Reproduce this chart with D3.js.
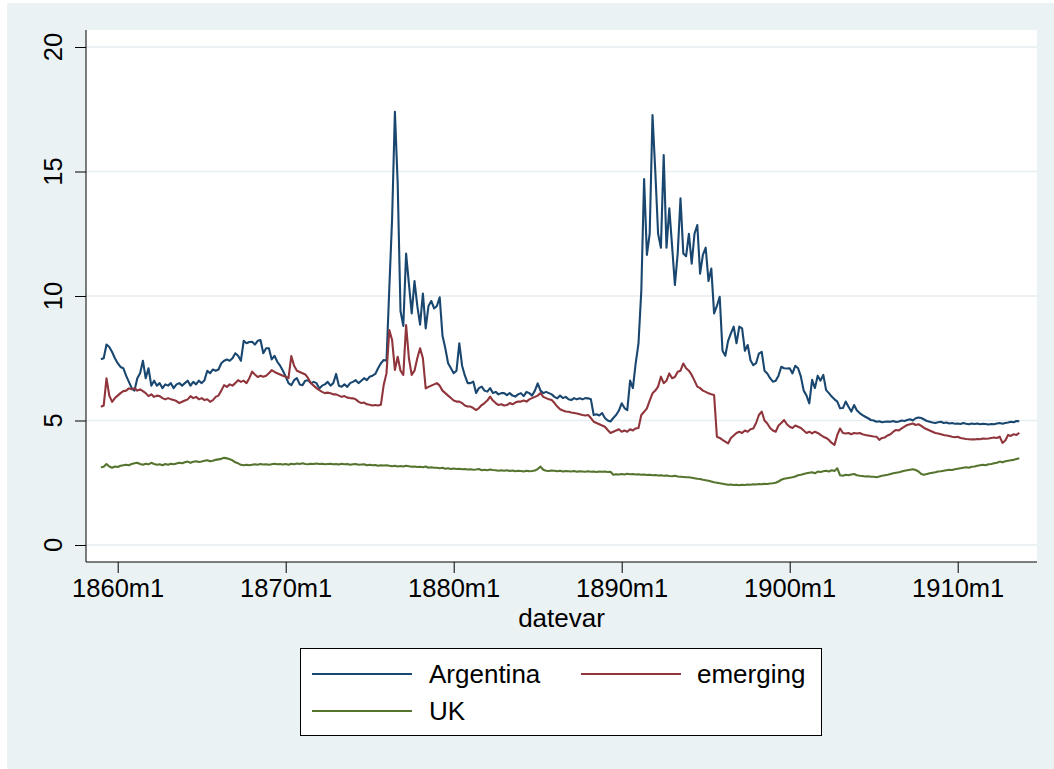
<!DOCTYPE html>
<html>
<head>
<meta charset="utf-8">
<script src="https://cdn.jsdelivr.net/npm/d3@7"></script>
<style>
  body { margin: 0; background: #fff; }
  text { font-family: "Liberation Sans", Arial, Helvetica, sans-serif; fill: #000; }
</style>
</head>
<body>
<div id="chart"></div>
<script>
var width = 1054;
var height = 769;

// bimonthly observations starting 1859m1
const startYear = 1859;
const stepYears = 1 / 6;

const argentina = [
  7.46, 7.5, 8.05, 7.95, 7.75, 7.5,   7.3, 7.15, 7.1, 6.8, 6.55, 6.3,
  6.2, 6.7, 6.9, 7.4, 6.7, 7.1,       6.4, 6.6, 6.4, 6.5, 6.3, 6.45,
  6.4, 6.5, 6.3, 6.45, 6.5, 6.4,      6.5, 6.6, 6.4, 6.55, 6.45, 6.6,
  6.5, 6.62, 7.0, 6.9, 7.05, 7.0,     7.05, 7.3, 7.4, 7.45, 7.4, 7.5,
  7.7, 7.6, 7.4, 8.2, 8.1, 8.15,      8.16, 8.05, 8.2, 8.23, 7.7, 7.9,
  7.9, 7.45, 7.6, 7.36, 7.2, 7.0,     6.76, 6.5, 6.42, 6.62, 6.7, 6.45,
  6.42, 6.6, 6.62, 6.5, 6.55, 6.5,    6.29, 6.4, 6.45, 6.55, 6.4, 6.5,
  6.87, 6.4, 6.36, 6.45, 6.35, 6.5,   6.55, 6.62, 6.5, 6.6, 6.7, 6.62,
  6.76, 6.8, 6.87, 7.1, 7.3, 7.43,    7.4, 10.3, 13.1, 17.4, 14.5, 9.4,
  8.8, 11.7, 10.5, 9.3, 10.6, 9.6,    8.85, 10.1, 8.7, 9.6, 9.8, 9.5,
  9.6, 9.95, 8.4, 7.9, 7.3, 7.1,      6.9, 7.0, 8.1, 7.2, 6.8, 6.5,
  6.5, 6.56, 6.1, 6.3, 6.36, 6.2,     6.16, 6.3, 6.1, 6.15, 6.05, 6.1,
  6.1, 6.02, 6.1, 6.0, 5.96, 6.05,    6.1, 5.98, 6.15, 6.1, 6.0, 6.2,
  6.49, 6.2, 6.1, 6.15, 6.1, 6.05,    5.95, 5.89, 6.0, 5.9, 5.95, 5.85,
  5.82, 5.9, 5.85, 5.89, 5.85, 5.9,   5.89, 5.85, 5.22, 5.25, 5.2, 5.3,
  5.1, 5.0, 4.96, 5.1, 5.22, 5.4,     5.69, 5.5, 5.42, 6.6, 6.3, 7.3,
  8.1, 10.2, 14.7, 11.65, 12.5, 17.27, 15.0, 12.5, 11.94, 15.66, 11.94, 13.52,
  12.0, 10.44, 11.71, 13.92, 11.71, 11.6, 12.5, 11.3, 12.5, 12.85, 10.9, 11.65,
  11.94, 10.6, 11.1, 9.3, 9.6, 9.97,  7.8, 7.6, 8.2, 8.5, 8.77, 8.1,
  8.77, 8.7, 7.8, 8.03, 7.42, 7.22,   7.3, 7.69, 7.76, 7.0, 6.89, 6.7,
  6.56, 6.6, 6.8, 7.16, 7.1, 7.09,    7.1, 6.89, 7.2, 7.1, 6.76, 6.2,
  6.0, 5.69, 6.63, 6.3, 6.8, 6.6,     6.83, 6.22, 6.1, 5.96, 5.85, 5.76,
  5.49, 5.5, 5.76, 5.55, 5.36, 5.62,  5.4, 5.3, 5.22, 5.15, 5.09, 5.02,
  5.0, 4.95, 4.97, 4.93, 4.95, 4.96,  4.95, 4.98, 4.94, 4.96, 5.0, 4.98,
  5.02, 5.05, 5.0, 5.09, 5.12, 5.1,   5.04, 4.98, 4.95, 4.92, 4.9, 4.93,
  4.95, 4.9, 4.92, 4.88, 4.9, 4.87,   4.88, 4.86, 4.9, 4.87, 4.85, 4.88,
  4.86, 4.88, 4.85, 4.87, 4.86, 4.84, 4.86, 4.85, 4.88, 4.9, 4.87, 4.9,
  4.92, 4.95, 4.93, 4.98, 4.97
];

const emerging = [
  5.55, 5.6, 6.69, 6.0, 5.75, 5.9,    6.0, 6.1, 6.18, 6.2, 6.29, 6.25,
  6.3, 6.2, 6.25, 6.18, 6.1, 5.98,    6.05, 5.95, 6.0, 5.98, 5.9, 5.85,
  5.9, 5.85, 5.82, 5.78, 5.7, 5.75,   5.8, 5.85, 5.98, 5.9, 5.95, 5.85,
  5.9, 5.82, 5.85, 5.75, 5.82, 5.95,  6.0, 6.2, 6.42, 6.35, 6.45, 6.4,
  6.5, 6.62, 6.55, 6.6, 6.5, 6.7,     6.96, 6.85, 6.75, 6.8, 6.76, 6.8,
  6.9, 7.02, 6.95, 6.9, 6.85, 6.8,    6.76, 6.7, 7.59, 7.2, 7.0, 6.95,
  6.9, 6.85, 6.7, 6.5, 6.4, 6.3,      6.22, 6.15, 6.1, 6.12, 6.09, 6.05,
  6.05, 6.0, 5.95, 5.98, 5.92, 5.9,   5.89, 5.85, 5.76, 5.7, 5.72, 5.65,
  5.63, 5.6, 5.62, 5.6, 5.63, 6.43,   6.9, 8.63, 8.23, 7.03, 7.56, 7.0,
  6.83, 8.83, 7.5, 6.83, 7.0, 7.5,    7.9, 7.5, 6.29, 6.35, 6.4, 6.45,
  6.5, 6.4, 6.2, 6.1, 6.0, 5.9,       5.8, 5.76, 5.76, 5.7, 5.6, 5.56,
  5.56, 5.5, 5.42, 5.5, 5.62, 5.7,    5.8, 5.96, 5.8, 5.7, 5.62, 5.65,
  5.6, 5.62, 5.7, 5.65, 5.72, 5.76,   5.76, 5.8, 5.76, 5.85, 5.9, 5.95,
  6.0, 6.1, 5.95, 5.9, 5.85, 5.82,    5.7, 5.56, 5.45, 5.4, 5.36, 5.35,
  5.32, 5.3, 5.28, 5.25, 5.22, 5.2,   5.22, 5.1, 4.95, 4.9, 4.85, 4.8,
  4.75, 4.62, 4.5, 4.55, 4.6, 4.65,   4.55, 4.6, 4.55, 4.65, 4.6, 4.68,
  4.7, 5.22, 5.35, 5.49, 5.8, 6.09,   6.2, 6.36, 6.76, 6.5, 6.6, 6.89,
  6.7, 6.75, 6.96, 7.0, 7.29, 7.1,    7.0, 6.83, 6.6, 6.36, 6.3, 6.2,
  6.15, 6.09, 6.05, 6.02, 4.35, 4.3,  4.22, 4.15, 4.08, 4.3, 4.4, 4.5,
  4.55, 4.5, 4.6, 4.55, 4.65, 4.68,   4.9, 5.22, 5.36, 5.0, 4.88, 4.7,
  4.6, 4.55, 4.8, 4.9, 5.02, 4.85,    4.75, 4.7, 4.8, 4.75, 4.7, 4.6,
  4.5, 4.55, 4.48, 4.55, 4.5, 4.42,   4.35, 4.3, 4.22, 4.1, 4.02, 4.42,
  4.68, 4.5, 4.48, 4.5, 4.45, 4.5,    4.48, 4.5, 4.45, 4.42, 4.4, 4.38,
  4.36, 4.35, 4.22, 4.3, 4.32, 4.4,   4.45, 4.55, 4.62, 4.6, 4.68, 4.75,
  4.82, 4.85, 4.88, 4.82, 4.85, 4.78, 4.7, 4.65, 4.6, 4.55, 4.5, 4.48,
  4.45, 4.42, 4.4, 4.38, 4.35, 4.33,  4.35, 4.3, 4.28, 4.26, 4.25, 4.24,
  4.24, 4.26, 4.25, 4.28, 4.27, 4.28, 4.3, 4.32, 4.3, 4.35, 4.1, 4.2,
  4.42, 4.38, 4.45, 4.42, 4.5
];

const uk = [
  3.12, 3.14, 3.25, 3.15, 3.1, 3.15,  3.13, 3.18, 3.2, 3.22, 3.2, 3.25,
  3.28, 3.3, 3.25, 3.22, 3.26, 3.24,  3.3, 3.25, 3.22, 3.24, 3.2, 3.25,
  3.22, 3.26, 3.24, 3.27, 3.3, 3.28,  3.32, 3.35, 3.3, 3.34, 3.36, 3.33,
  3.35, 3.38, 3.4, 3.36, 3.38, 3.42,  3.44, 3.46, 3.5, 3.48, 3.44, 3.4,
  3.32, 3.28, 3.22, 3.2, 3.22, 3.2,   3.22, 3.24, 3.22, 3.25, 3.23, 3.24,
  3.22, 3.24, 3.26, 3.24, 3.25, 3.23, 3.25, 3.22, 3.26, 3.24, 3.27, 3.25,
  3.28, 3.25, 3.24, 3.26, 3.25, 3.27, 3.25, 3.26, 3.24, 3.25, 3.26, 3.24,
  3.25, 3.23, 3.26, 3.24, 3.25, 3.22, 3.24, 3.25, 3.22, 3.23, 3.24, 3.2,
  3.22, 3.2, 3.21, 3.18, 3.2, 3.19,   3.2, 3.18, 3.16, 3.18, 3.15, 3.17,
  3.15, 3.18, 3.16, 3.14, 3.15, 3.13, 3.14, 3.12, 3.15, 3.1, 3.12, 3.1,
  3.1, 3.08, 3.1, 3.06, 3.08, 3.05,   3.07, 3.05, 3.06, 3.04, 3.05, 3.03,
  3.04, 3.02, 3.03, 3.05, 3.0, 3.02,  3.0, 3.03, 3.01, 3.0, 2.98, 3.0,
  2.98, 3.0, 2.97, 2.99, 2.96, 2.98,  2.97, 2.95, 2.98, 2.96, 2.97, 2.99,
  3.05, 3.15, 3.02, 2.98, 2.97, 2.99, 2.98, 2.96, 2.98, 2.95, 2.97, 2.96,
  2.95, 2.97, 2.94, 2.96, 2.95, 2.94, 2.96, 2.94, 2.95, 2.93, 2.95, 2.94,
  2.95, 2.93, 2.94, 2.82, 2.84, 2.83, 2.85, 2.83, 2.86, 2.84, 2.85, 2.83,
  2.84, 2.82, 2.83, 2.81, 2.82, 2.8,  2.81, 2.79, 2.8, 2.78, 2.79, 2.77,
  2.76, 2.78, 2.75, 2.74, 2.73, 2.72, 2.72, 2.7, 2.68, 2.66, 2.65, 2.62,
  2.6, 2.58, 2.55, 2.52, 2.5, 2.48,   2.46, 2.44, 2.42, 2.43, 2.41, 2.42,
  2.4, 2.42, 2.41, 2.43, 2.42, 2.44,  2.43, 2.45, 2.44, 2.46, 2.45, 2.47,
  2.48, 2.5, 2.55, 2.62, 2.66, 2.68,  2.7, 2.72, 2.75, 2.8, 2.82, 2.85,
  2.88, 2.9, 2.92, 2.88, 2.95, 2.93,  2.96, 2.98, 2.95, 3.0, 2.97, 3.08,
  2.8, 2.78, 2.82, 2.8, 2.83, 2.85,   2.8, 2.78, 2.77, 2.75, 2.76, 2.74,
  2.74, 2.72, 2.75, 2.78, 2.8, 2.82,  2.85, 2.88, 2.9, 2.92, 2.95, 2.98,
  3.0, 3.02, 3.04, 3.01, 2.95, 2.85,  2.82, 2.85, 2.88, 2.9, 2.92, 2.95,
  2.96, 2.98, 3.0, 3.02, 3.01, 3.04,  3.06, 3.08, 3.1, 3.12, 3.1, 3.14,
  3.15, 3.18, 3.2, 3.22, 3.2, 3.24,   3.25, 3.28, 3.3, 3.35, 3.32, 3.36,
  3.38, 3.4, 3.42, 3.45, 3.48
];

const yTicks = [0, 5, 10, 15, 20];
const xTicks = [1860, 1870, 1880, 1890, 1900, 1910];
const seriesNames = ["Argentina", "emerging", "UK"];
const seriesColors = ["#1a476f", "#90353b", "#55752f"];

const series = [argentina, emerging, uk];

var x = d3.scaleLinear().domain([1860, 1910]).range([117.7, 957.7]);
var y = d3.scaleLinear().domain([0, 20]).range([545, 47]);

let svg = d3.select("#chart")
  .append("svg")
  .attr("width", width)
  .attr("height", height);

// graph region background
svg.append("rect")
  .attr("x", 7).attr("y", 3)
  .attr("width", width - 7).attr("height", height - 3)
  .attr("fill", "#eaf2f3");

// plot region
var plotLeft = 86, plotRight = 1037, plotTop = 30, plotBottom = 562;
svg.append("rect")
  .attr("x", plotLeft).attr("y", plotTop)
  .attr("width", plotRight - plotLeft).attr("height", plotBottom - plotTop)
  .attr("fill", "#fff");

// gridlines
svg.append("g").selectAll("line")
  .data(yTicks)
  .enter().append("line")
  .attr("x1", plotLeft).attr("x2", plotRight)
  .attr("y1", d => y(d)).attr("y2", d => y(d))
  .attr("stroke", "#e6eef1")
  .attr("stroke-width", 1.6);

// lines
var line = d3.line()
  .x((d, i) => x(startYear + i * stepYears))
  .y(d => y(d));

svg.append("g").selectAll("path")
  .data(series)
  .enter().append("path")
  .attr("d", line)
  .attr("fill", "none")
  .attr("stroke", (d, i) => seriesColors[i])
  .attr("stroke-width", 2.1)
  .attr("stroke-linejoin", "round");

// y axis
var yAxis = d3.axisLeft(y).tickValues(yTicks).tickSize(11).tickFormat("");
var gy = svg.append("g")
  .attr("transform", "translate(" + plotLeft + ",0)")
  .call(yAxis);
gy.select(".domain").attr("d", "M0," + plotTop + "V" + plotBottom).attr("stroke", "#000");
gy.selectAll(".tick line").attr("stroke", "#000");

svg.append("g").selectAll("text")
  .data(yTicks)
  .enter().append("text")
  .attr("transform", d => "translate(62," + y(d) + ") rotate(-90)")
  .attr("text-anchor", "middle")
  .style("font-size", "25.5px")
  .text(d => d);

// x axis
var xAxis = d3.axisBottom(x).tickValues(xTicks).tickSize(11).tickFormat(d => d + "m1");
var gx = svg.append("g")
  .attr("transform", "translate(0," + plotBottom + ")")
  .call(xAxis);
gx.select(".domain").attr("d", "M" + plotLeft + ",0H" + plotRight).attr("stroke", "#000");
gx.selectAll(".tick line").attr("stroke", "#000");
gx.selectAll(".tick text")
  .attr("y", 35).attr("dy", 0)
  .style("font-size", "25.5px")
  .style("font-family", "'Liberation Sans', Arial, sans-serif")
  .attr("fill", "#000");

svg.append("text")
  .attr("x", (plotLeft + plotRight) / 2).attr("y", 627)
  .attr("text-anchor", "middle")
  .style("font-size", "26px")
  .text("datevar");

// legend
var legend = svg.append("g");
legend.append("rect")
  .attr("x", 300.5).attr("y", 648.5)
  .attr("width", 521).attr("height", 87)
  .attr("fill", "#fff")
  .attr("stroke", "#000")
  .attr("stroke-width", 1);

var legendPos = [
  { lx: 312, ly: 674, tx: 429 },
  { lx: 581, ly: 674, tx: 697 },
  { lx: 312, ly: 711, tx: 429 }
];

legend.selectAll("line")
  .data(seriesNames)
  .enter().append("line")
  .attr("x1", (d, i) => legendPos[i].lx)
  .attr("x2", (d, i) => legendPos[i].lx + 100)
  .attr("y1", (d, i) => legendPos[i].ly)
  .attr("y2", (d, i) => legendPos[i].ly)
  .attr("stroke", (d, i) => seriesColors[i])
  .attr("stroke-width", 2.1);

legend.selectAll("text")
  .data(seriesNames)
  .enter().append("text")
  .attr("x", (d, i) => legendPos[i].tx)
  .attr("y", (d, i) => legendPos[i].ly + 9)
  .style("font-size", "26px")
  .text(d => d);
</script>
</body>
</html>
